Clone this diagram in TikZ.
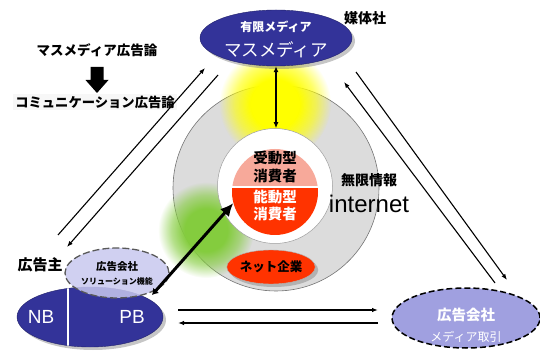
\documentclass[tikz,border=0pt]{standalone}
\usepackage{fontspec}
\setmainfont{Liberation Sans}
\newfontfamily\jp{Noto Sans CJK JP}
\usetikzlibrary{shapes.geometric,arrows.meta,shadows,fadings}
\definecolor{navy}{HTML}{333399}
\definecolor{ringgray}{HTML}{DCDCDC}
\definecolor{salmon}{HTML}{F7A99A}
\definecolor{hotred}{HTML}{FF3300}
\definecolor{lav}{HTML}{A0A0E0}
\definecolor{lightlav}{HTML}{C8C8EE}
\definecolor{glowgreen}{HTML}{84CC3E}
\definecolor{glowyellow}{HTML}{FFFF00}
\pgfdeclareradialshading{glowshade}{\pgfpointorigin}{color(0bp)=(pgftransparent!0); color(11bp)=(pgftransparent!0); color(18bp)=(pgftransparent!40); color(25bp)=(pgftransparent!100); color(50bp)=(pgftransparent!100)}
\pgfdeclarefading{softglow}{\pgfuseshading{glowshade}}
\tikzset{
  fs/.style={font=\jp\fontsize{#1}{#1}\selectfont},
  fsb/.style={font=\jp\bfseries\fontsize{#1}{#1}\selectfont},
  thinarrow/.style={line width=1.1pt, -{Latex[length=6pt,width=4.5pt]}},
  shadowed/.style={drop shadow={opacity=0.45, shadow xshift=3pt, shadow yshift=-3pt}},
  blob/.style={ellipse, inner sep=0pt},
}
\begin{document}
\begin{tikzpicture}[x=1pt,y=-1pt]
\useasboundingbox (0,0) rectangle (540,352);

% outer ring
\node[circle, minimum size=206pt, inner sep=0, fill=ringgray, draw=gray!90!black, line width=0.6pt] (ring) at (276,188) {};
% glows
\fill[glowyellow, path fading=softglow] (275,104) circle (56pt);
\fill[glowgreen, path fading=softglow] (206,230) circle (48pt);
% inner white circle
\node[circle, minimum size=115pt, inner sep=0, fill=white, draw=gray!75, line width=0.5pt] (inner) at (275,186) {};
% core
\begin{scope}
  \clip (275,192) circle (43pt);
  \fill[salmon] (230,147) rectangle (320,187);
  \fill[hotred] (230,187) rectangle (320,238);
\end{scope}
\node[circle, minimum size=86pt, inner sep=0] (core) at (275,192) {};
\draw[white, line width=1.3pt] (core.west |- 0,187) -- (core.east |- 0,187);
\node[fsb=14.5, align=center, text=black] (passive) at (275,167) {受動型\\[3pt]消費者};
\node[fsb=14.5, align=center, text=white] (active) at (275,205.5) {能動型\\[3pt]消費者};

% labels on ring
\node[fsb=14] (mugen) at (369,180) {無限情報};
\node[font=\fontsize{24}{24}\selectfont, text=black] (net) at (369,204) {internet};

% net company
\node[blob, minimum width=88pt, minimum height=34pt, fill=hotred, draw=gray!60, shadowed, fsb=12.5] (netco) at (271,267) {ネット企業};

% top mass media ellipse
\node[blob, minimum width=152pt, minimum height=56pt, fill=navy, draw=navy!70!black, shadowed] (mass) at (276,38) {};
\node[fsb=12, text=white] (mass1) at (276,27) {有限メディア};
\node[fs=17.5, text=white] (mass2) at (276,50) {マスメディア};
\node[fsb=14] (baitai) at (365,18) {媒体社};

% double arrow
\draw[line width=1.3pt, {Latex[length=6pt,width=5pt]}-{Latex[length=6pt,width=5pt]}] (mass.south) -- (mass.south |- inner.north);

% top-left theory labels
\node[fsb=13.5] (theory1) at (97,50) {マスメディア広告論};
\fill[black] (90.5,67) -- (103.5,67) -- (103.5,80) -- (108.5,80) -- (97,93) -- (85.5,80) -- (90.5,80) -- cycle;
\node[fsb=13.3, fill=gray!6, inner sep=2pt] (theory2) at (95,102) {コミュニケーション広告論};

% advertiser
\node[fsb=15] (koukokunushi) at (40,265) {広告主};
\node[blob, minimum width=146pt, minimum height=60pt, fill=navy, draw=navy!70!black, shadowed] (nbpb) at (90,317) {};
\begin{scope}
  \clip (90,317) ellipse (73pt and 30pt);
  \draw[white, line width=1.2pt] (68,280) -- (68,355);
\end{scope}
\node[font=\fontsize{19}{19}\selectfont, text=white] (nb) at (41,317) {NB};
\node[font=\fontsize{19}{19}\selectfont, text=white] (pb) at (132,317) {PB};

% solution agency
\node[blob, minimum width=104pt, minimum height=50pt, fill=lightlav, fill opacity=0.85, draw=gray!70!black, dash pattern=on 7pt off 3pt, line width=1.3pt] (sol) at (117,273) {};
\node[fsb=10.5] (sol1) at (117,267) {広告会社};
\node[fsb=8] (sol2) at (117,281) {ソリューション機能};

% thick arrow to active consumer
\coordinate (solend) at (152,295);
\draw[line width=3pt, {Latex[length=6pt,width=8pt]}-{Latex[length=13pt,width=12pt]}] (solend) -- (core.195);

% media agency
\node[blob, minimum width=148pt, minimum height=60pt, fill=lav, draw=black, dash pattern=on 6pt off 3pt, line width=1.5pt] (media) at (466,318) {};
\node[fsb=14.5, text=white] (media1) at (466,315) {広告会社};
\node[fs=12, text=white] (media2) at (466,337) {メディア取引};

% connector coordinates
\coordinate (la1) at (58,235);  \coordinate (la2) at (205,68);
\coordinate (lb1) at (218,75);  \coordinate (lb2) at (67,247);
\coordinate (ra1) at (495,283); \coordinate (ra2) at (344,82);
\coordinate (rb1) at (356,72);  \coordinate (rb2) at (507,280);
\coordinate (ba1) at (178,310); \coordinate (ba2) at (378,310);
\coordinate (bb1) at (378,323); \coordinate (bb2) at (178,323);
\draw[thinarrow] (la1) -- (la2);
\draw[thinarrow] (lb1) -- (lb2);
\draw[thinarrow] (ra1) -- (ra2);
\draw[thinarrow] (rb1) -- (rb2);
\draw[thinarrow, line width=1.5pt] (ba1) -- (ba2);
\draw[thinarrow, line width=1.5pt] (bb1) -- (bb2);
\end{tikzpicture}
\end{document}
